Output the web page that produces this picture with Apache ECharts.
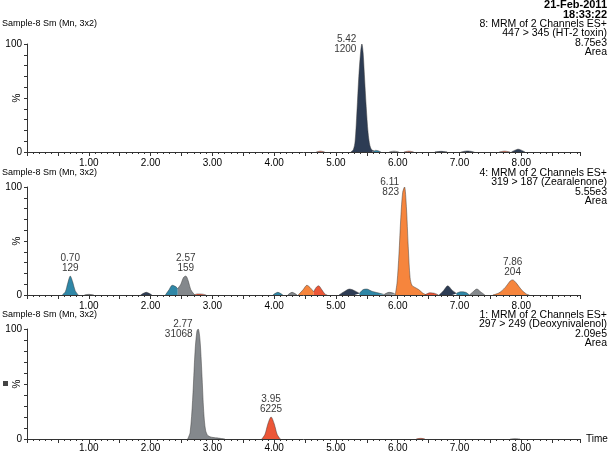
<!DOCTYPE html>
<html>
<head>
<meta charset="utf-8">
<script src="https://cdn.jsdelivr.net/npm/echarts@6/dist/echarts.min.js"></script>
<style>
  html, body { margin: 0; padding: 0; background: #fff; }
  #chart { width: 609px; height: 452px; }
</style>
</head>
<body>
<div id="chart"></div>
<script>
// Retention time (min) vs relative intensity (%).
// Each panel is a list of integrated peaks; each peak is a list of [time, %].

// 8: HT-2 toxin
const htPeaks = [
  [[5.24, 0], [5.28, 2], [5.31, 10], [5.34, 38], [5.37, 70], [5.40, 93], [5.42, 100], [5.44, 92], [5.46, 72], [5.49, 42], [5.52, 18], [5.55, 6], [5.58, 2], [5.62, 1]],
  [[5.60, 0], [5.64, 1.5], [5.68, 1.2], [5.73, 0]],
  [[4.68, 0], [4.75, 0.8], [4.82, 0]],
  [[5.86, 0], [5.94, 0.8], [6.02, 0]],
  [[6.10, 0], [6.18, 0.8], [6.26, 0]],
  [[6.60, 0], [6.70, 0.6], [6.80, 0]],
  [[7.02, 0], [7.13, 1], [7.24, 0]],
  [[7.64, 0], [7.73, 0.8], [7.82, 0]],
  [[7.84, 0], [7.95, 2.6], [8.06, 0]]
];
const htColors = ['navy', 'teal', 'red', 'gray', 'red', 'navy', 'navy', 'red', 'navy'];
const htLabels = [[5.42, 1200, 100]];

// 4: Zearalenone
const zeaPeaks = [
  [[0.57, 0], [0.62, 3], [0.66, 11], [0.70, 17.5], [0.74, 12], [0.78, 4], [0.83, 0]],
  [[0.93, 0], [1.00, 0.6], [1.08, 0]],
  [[1.84, 0], [1.93, 2.5], [2.02, 0]],
  [[2.24, 0], [2.30, 5], [2.35, 9], [2.40, 8], [2.44, 6]],
  [[2.44, 6], [2.49, 10], [2.53, 16], [2.57, 17.5], [2.61, 13], [2.65, 5], [2.70, 1], [2.72, 0]],
  [[2.70, 0], [2.76, 1], [2.84, 0.8], [2.90, 0]],
  [[3.98, 0], [4.06, 2.5], [4.14, 0]],
  [[4.22, 0], [4.29, 2.5], [4.37, 0]],
  [[4.39, 0], [4.47, 5], [4.53, 9], [4.58, 7], [4.64, 3]],
  [[4.64, 3], [4.68, 7], [4.72, 8.5], [4.77, 5], [4.82, 1], [4.86, 0]],
  [[5.05, 0], [5.13, 3], [5.22, 5.5], [5.30, 4], [5.38, 1.5]],
  [[5.38, 1.5], [5.44, 5], [5.50, 5.5], [5.58, 3.5], [5.68, 2], [5.78, 0.5]],
  [[5.78, 0.5], [5.86, 2.5], [5.94, 1.5], [5.96, 0.5]],
  [[5.96, 0], [5.99, 12], [6.02, 38], [6.05, 72], [6.08, 95], [6.11, 100], [6.14, 82], [6.17, 45], [6.20, 16], [6.23, 9], [6.28, 7], [6.34, 5], [6.40, 2], [6.46, 0]],
  [[6.44, 0], [6.52, 2], [6.60, 1.5], [6.66, 0]],
  [[6.67, 0], [6.74, 4], [6.81, 8.5], [6.88, 4.5], [6.95, 1.5]],
  [[6.95, 1.5], [7.02, 3], [7.10, 2.5], [7.16, 0]],
  [[7.16, 0], [7.22, 3], [7.28, 5.5], [7.34, 3], [7.41, 0]],
  [[7.54, 0], [7.64, 2], [7.74, 7], [7.82, 13], [7.86, 14], [7.92, 11], [8.00, 5], [8.08, 1], [8.13, 0]]
];
const zeaColors = ['teal', 'gray', 'navy', 'teal', 'gray', 'red', 'teal', 'gray', 'orange', 'red',
  'navy', 'teal', 'gray', 'orange', 'red', 'navy', 'teal', 'gray', 'orange'];
const zeaLabels = [[0.70, 129, 17.5], [2.57, 159, 17.5], [6.11, 823, 100], [7.86, 204, 14]];

// 1: Deoxynivalenol
const donPeaks = [
  [[2.60, 0], [2.64, 6], [2.68, 35], [2.72, 80], [2.75, 98], [2.77, 100], [2.80, 90], [2.83, 60], [2.86, 25], [2.89, 8], [2.93, 3], [3.00, 1.5], [3.10, 0.8], [3.20, 0]],
  [[3.80, 0], [3.85, 4], [3.90, 14], [3.95, 20], [4.00, 14], [4.05, 4], [4.10, 0]],
  [[6.30, 0], [6.37, 0.6], [6.44, 0]],
  [[7.82, 0], [7.90, 0.3], [7.98, 0]]
];
const donColors = ['gray', 'red', 'red', 'gray'];
const donLabels = [[2.77, 31068, 100], [3.95, 6225, 20]];

const panelHeads = [
  ['8: MRM of 2 Channels ES+', '447 > 345 (HT-2 toxin)', '8.75e3', 'Area'],
  ['4: MRM of 2 Channels ES+', '319 > 187 (Zearalenone)', '5.55e3', 'Area'],
  ['1: MRM of 2 Channels ES+', '297 > 249 (Deoxynivalenol)', '2.09e5', 'Area']
];

const fills = {
  navy: '#2d3c54',
  teal: '#2f87a7',
  gray: '#84888c',
  orange: '#f6853d',
  red: '#ec5637'
};

const FONT = 'Liberation Sans';
const grids = [
  { left: 27, right: 29, top: 44, height: 108, outerBoundsMode: 'none', containLabel: false },
  { left: 27, right: 29, top: 187, height: 108, outerBoundsMode: 'none', containLabel: false },
  { left: 27, right: 29, top: 329, height: 110, outerBoundsMode: 'none', containLabel: false }
];
const panels = [
  { peaks: htPeaks, colors: htColors, labels: htLabels },
  { peaks: zeaPeaks, colors: zeaColors, labels: zeaLabels },
  { peaks: donPeaks, colors: donColors, labels: donLabels }
];

const xAxes = grids.map((g, i) => ({
  gridIndex: i,
  type: 'value',
  min: 0,
  max: 8.95,
  interval: 0.5,
  name: i === 2 ? 'Time' : '',
  nameLocation: 'end',
  nameGap: 6,
  nameTextStyle: { fontFamily: FONT, fontSize: 10, color: '#000' },
  axisLine: { lineStyle: { color: '#333', width: 1 } },
  axisTick: { length: 4, lineStyle: { color: '#333' } },
  minorTick: { show: true, splitNumber: 5, length: 2, lineStyle: { color: '#333' } },
  splitLine: { show: false },
  minorSplitLine: { show: false },
  axisLabel: {
    margin: i === 2 ? 4 : 6,
    fontFamily: FONT,
    fontSize: 10,
    color: '#000',
    formatter: v => (v > 0 && Number.isInteger(v)) ? v.toFixed(2) : ''
  }
}));

const yAxes = grids.map((g, i) => ({
  gridIndex: i,
  type: 'value',
  min: 0,
  max: 100,
  interval: 10,
  axisLine: { show: true, lineStyle: { color: '#333', width: 1 } },
  axisTick: { show: true, length: 3, lineStyle: { color: '#333' } },
  splitLine: { show: false },
  axisLabel: {
    margin: 5,
    fontFamily: FONT,
    fontSize: 10,
    color: '#000',
    formatter: v => (v === 0 || v === 100) ? String(v) : ''
  }
}));

const series = [];
panels.forEach((p, i) => {
  p.peaks.forEach((pts, k) => {
    series.push({
      type: 'line',
      xAxisIndex: i,
      yAxisIndex: i,
      data: pts,
      smooth: 0.3,
      symbol: 'none',
      silent: true,
      lineStyle: { color: '#3a3a3a', width: 0.6, opacity: 0.8 },
      areaStyle: { color: fills[p.colors[k]], opacity: 1 },
      z: 2
    });
  });
  series.push({
    type: 'scatter',
    xAxisIndex: i,
    yAxisIndex: i,
    symbol: 'circle',
    symbolSize: 1,
    itemStyle: { color: 'rgba(0,0,0,0)' },
    silent: true,
    z: 5,
    labelLayout: { hideOverlap: false },
    data: p.labels.map(l => ({
      value: [l[0], l[2]],
      label: {
        show: true,
        position: l[2] > 50 ? 'left' : 'top',
        distance: l[2] > 50 ? 5 : 2,
        formatter: l[0].toFixed(2) + '\n' + l[1],
        fontFamily: FONT,
        fontSize: 10,
        lineHeight: 10,
        color: '#000'
      }
    }))
  });
});

// header texts and the rotated "%" names
const heads = [];
const headMids = [24, 173, 315];
headMids.forEach((y, i) => {
  heads.push({
    type: 'text', x: 2, y: y,
    style: { text: 'Sample-8 Sm (Mn, 3x2)', font: '9px ' + FONT, fill: '#000', verticalAlign: 'middle' }
  });
  panelHeads[i].forEach((t, j) => {
    heads.push({
      type: 'text', x: 607, y: y + j * 9.5,
      style: { text: t, font: '10.5px ' + FONT, fill: '#000', align: 'right', verticalAlign: 'middle' }
    });
  });
  const g = grids[i];
  heads.push({
    type: 'text', x: 17, y: g.top + g.height / 2, rotation: Math.PI / 2,
    style: { text: '%', font: '10px ' + FONT, fill: '#000', align: 'center', verticalAlign: 'middle' }
  });
});
heads.push({
  type: 'text', x: 607, y: 5,
  style: { text: '21-Feb-2011', font: 'bold 11px ' + FONT, fill: '#000', align: 'right', verticalAlign: 'middle' }
});
heads.push({
  type: 'text', x: 607, y: 15,
  style: { text: '18:33:22', font: 'bold 11px ' + FONT, fill: '#000', align: 'right', verticalAlign: 'middle' }
});
heads.push({
  type: 'rect', x: 3, y: 381, shape: { width: 5, height: 5 },
  style: { fill: '#444' }
});

const chart = echarts.init(document.getElementById('chart'), null, { renderer: 'canvas' });
chart.setOption({
  animation: false,
  backgroundColor: '#fff',
  grid: grids,
  xAxis: xAxes,
  yAxis: yAxes,
  series: series,
  graphic: heads
});
</script>
</body>
</html>
